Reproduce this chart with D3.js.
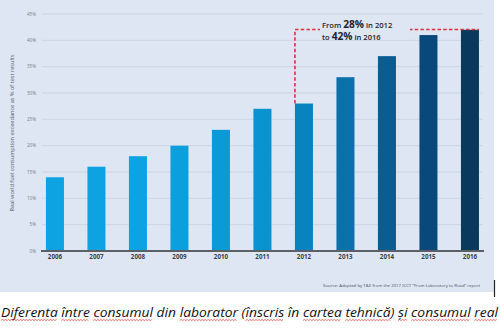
<!DOCTYPE html>
<html><head><meta charset="utf-8">
<script src="https://cdn.jsdelivr.net/npm/d3@7"></script>
<style>body{margin:0;background:#fff}svg{display:block}</style>
</head><body>
<svg id="c" width="500" height="329"></svg>
<script>
const years = ["2006","2007","2008","2009","2010","2011","2012","2013","2014","2015","2016"];
const values = [14,16,18,20,23,27,28,33,37,41,42];
const barColors = ["#0da3e2","#0da3e2","#0da3e2","#0c9fdd","#0b9ad8","#0a93d0","#0983bf","#0a71aa","#095d93","#08487a","#0a3a5b"];
const yTicks = [0,5,10,15,20,25,30,35,40,45];
const yTitle = "Real world fuel consumption exceedance as % of test results";
const sourceText = "Source: Adapted by T&E from the 2017 ICCT \u201cFrom Laboratory to Road\u201d report";
const caption = "Diferenta între consumul din laborator (înscris în cartea tehnică) și consumul real";
const flaggedWords = ["Diferenta","între","consumul","laborator","înscris","cartea","tehnică","și","consumul","real"];

const svg = d3.select("#c");
svg.append("rect").attr("x",0).attr("y",0).attr("width",494).attr("height",292).attr("fill","#dde6f2");

const x = d3.scaleBand().domain(years).range([34.2,490.7]).paddingInner(0.566).paddingOuter(0.283);
const y = d3.scaleLinear().domain([0,45]).range([251,14]);

// gridlines
svg.append("g").selectAll("line").data(yTicks.filter(d=>d>0)).join("line")
  .attr("x1",42).attr("x2",483).attr("y1",d=>y(d)).attr("y2",d=>y(d))
  .attr("stroke","#c8d2df").attr("stroke-width",0.8);

// y tick labels
svg.append("g").selectAll("text").data(yTicks).join("text")
  .attr("x",36).attr("y",d=>y(d)).attr("dy","0.35em").attr("text-anchor","end")
  .attr("font-family","Open Sans, sans-serif").attr("font-size",4.6).attr("fill","#7a7f88")
  .text(d=>d+"%");

// bars
svg.append("g").selectAll("rect").data(values).join("rect")
  .attr("x",(d,i)=>x(years[i])).attr("width",x.bandwidth())
  .attr("y",d=>y(d)).attr("height",d=>y(0)-y(d))
  .attr("fill",(d,i)=>barColors[i]);

// x axis
const xAxis = d3.axisBottom(x).tickSize(0).tickPadding(4);
const gx = svg.append("g").attr("transform",`translate(0,${y(0)})`).call(xAxis);
gx.select(".domain").attr("stroke","#5b6068").attr("stroke-width",1.8).attr("d","M41,0H484");
gx.selectAll("text").attr("font-family","Open Sans, sans-serif").attr("font-size",6.2)
  .attr("font-weight","bold").attr("fill","#3a3f48");

// y title
svg.append("text").attr("transform",`translate(14,${133}) rotate(-90)`)
  .attr("text-anchor","middle").attr("font-family","Open Sans, sans-serif")
  .attr("font-size",4.8).attr("fill","#5a6070").attr("textLength",157).attr("lengthAdjust","spacingAndGlyphs")
  .text(yTitle);

// dashed annotation
const i0 = years.indexOf("2012"), i1 = years.indexOf("2016");
const xl = x(years[i0]), xr = x(years[i1]) + x.bandwidth();
const ytop = y(values[i1]) - 0.3;
svg.append("path")
  .attr("d",`M${xl},${y(values[i0])}V${ytop}H${xr}`)
  .attr("fill","none").attr("stroke","#e0303c").attr("stroke-width",1.6).attr("stroke-dasharray","3.5,2.2");
// text background
svg.append("rect").attr("x",320).attr("y",28).attr("width",90).attr("height",12).attr("fill","#dde6f2");

const ann = svg.append("g").attr("font-family","Open Sans, sans-serif").attr("fill","#1e2430");
const t1 = ann.append("text").attr("x",322).attr("y",27.5);
t1.append("tspan").attr("font-size",7.6).attr("font-weight",600).text("From ");
t1.append("tspan").attr("font-size",10.2).attr("font-weight","bold").text("28%");
t1.append("tspan").attr("font-size",7.6).attr("font-weight",600).text(" in 2012");
const t2 = ann.append("text").attr("x",322).attr("y",39.5);
t2.append("tspan").attr("font-size",7.6).attr("font-weight",600).text("to ");
t2.append("tspan").attr("font-size",10.2).attr("font-weight","bold").text("42%");
t2.append("tspan").attr("font-size",7.6).attr("font-weight",600).text(" in 2016");

// source
svg.append("text").attr("x",480).attr("y",286.5).attr("text-anchor","end")
  .attr("font-family","Open Sans, sans-serif").attr("font-size",3.6).attr("fill","#4a5060")
  .attr("textLength",157).attr("lengthAdjust","spacingAndGlyphs").text(sourceText);

// cursor line
svg.append("line").attr("x1",494.5).attr("x2",494.5).attr("y1",280).attr("y2",297)
  .attr("stroke","#222").attr("stroke-width",1.2);

// caption
const capY = 316.5;
const cap = svg.append("text").attr("x",1).attr("y",capY)
  .attr("font-family","Open Sans, sans-serif").attr("font-style","italic").attr("font-size",13.2)
  .attr("fill","#111").attr("textLength",497).attr("lengthAdjust","spacingAndGlyphs").text(caption);

// spell-check wavy underlines under flagged words
const node = cap.node();
let searchFrom = 0;
const wavy = svg.append("g");
flaggedWords.forEach(w => {
  const idx = caption.indexOf(w, searchFrom);
  if (idx < 0) return;
  searchFrom = idx + w.length;
  let x0, x1;
  try {
    x0 = node.getStartPositionOfChar(idx).x;
    x1 = node.getEndPositionOfChar(idx + w.length - 1).x;
  } catch(e) { return; }
  const yb = capY + 4;
  let d = `M${x0},${yb}`;
  let up = true;
  for (let xx = x0 + 1.5; xx <= x1; xx += 1.5) { d += `L${xx},${yb + (up ? -1 : 0)}`; up = !up; }
  wavy.append("path").attr("d", d).attr("fill","none").attr("stroke","#e03030").attr("stroke-width",0.7);
});
</script>
</body></html>
